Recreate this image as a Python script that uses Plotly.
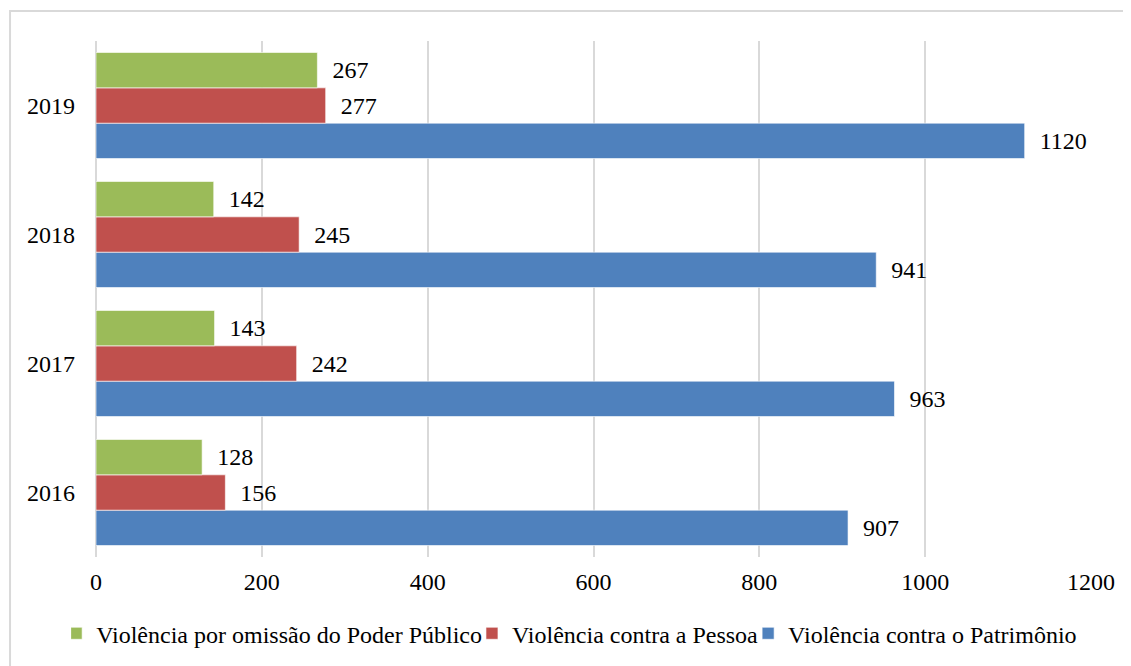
import plotly.graph_objects as go

years = ["2016", "2017", "2018", "2019"]
patrimonio = [907, 963, 941, 1120]
pessoa = [156, 242, 245, 277]
omissao = [128, 143, 142, 267]

names = ["Violência contra o Patrimônio", "Violência contra a Pessoa",
         "Violência por omissão do Poder Público"]
colors = ["#4F81BD", "#C0504D", "#9BBB59"]
x_ticks = [0, 200, 400, 600, 800, 1000, 1200]

FONT = "Liberation Serif"
FS = 24

fig = go.Figure()
for vals, name, col in zip([patrimonio, pessoa, omissao], names, colors):
    fig.add_trace(go.Bar(
        y=years, x=vals, name=name, orientation="h",
        marker=dict(color=col, line=dict(color="rgba(255,255,255,0.6)", width=1)),
        text=["\u00a0\u00a0" + str(v) for v in vals],
        textposition="outside", cliponaxis=False,
        textfont=dict(family=FONT, size=FS, color="#000000"),
    ))

fig.update_layout(
    width=1131, height=666,
    margin=dict(l=88, r=48, t=33, b=117, autoexpand=False),
    paper_bgcolor="white", plot_bgcolor="white",
    barmode="group", bargap=0.178, bargroupgap=0,
    font=dict(family=FONT, size=FS, color="#000000"),
    xaxis=dict(range=[0, 1200], tickvals=x_ticks, showgrid=True,
               gridcolor="#D9D9D9", gridwidth=2, zeroline=True,
               zerolinecolor="#D9D9D9", zerolinewidth=2, showline=False,
               ticks="", tickfont=dict(family=FONT, size=FS), ticklabelstandoff=8),
    yaxis=dict(showgrid=False, ticks="", showline=False,
               tickfont=dict(family=FONT, size=FS), ticklabelstandoff=20),
    legend=dict(orientation="h", x=-0.025, xanchor="left", y=-0.105,
                yanchor="top", traceorder="reversed",
                font=dict(family=FONT, size=FS), itemwidth=30, indentation=-15),
    showlegend=True,
    shapes=[dict(type="rect", xref="paper", yref="paper",
                 x0=-0.0864, x1=1.06, y0=-0.3, y1=1.058,
                 line=dict(color="#D9D9D9", width=2), layer="below")],
)

fig.write_html("out.html")
